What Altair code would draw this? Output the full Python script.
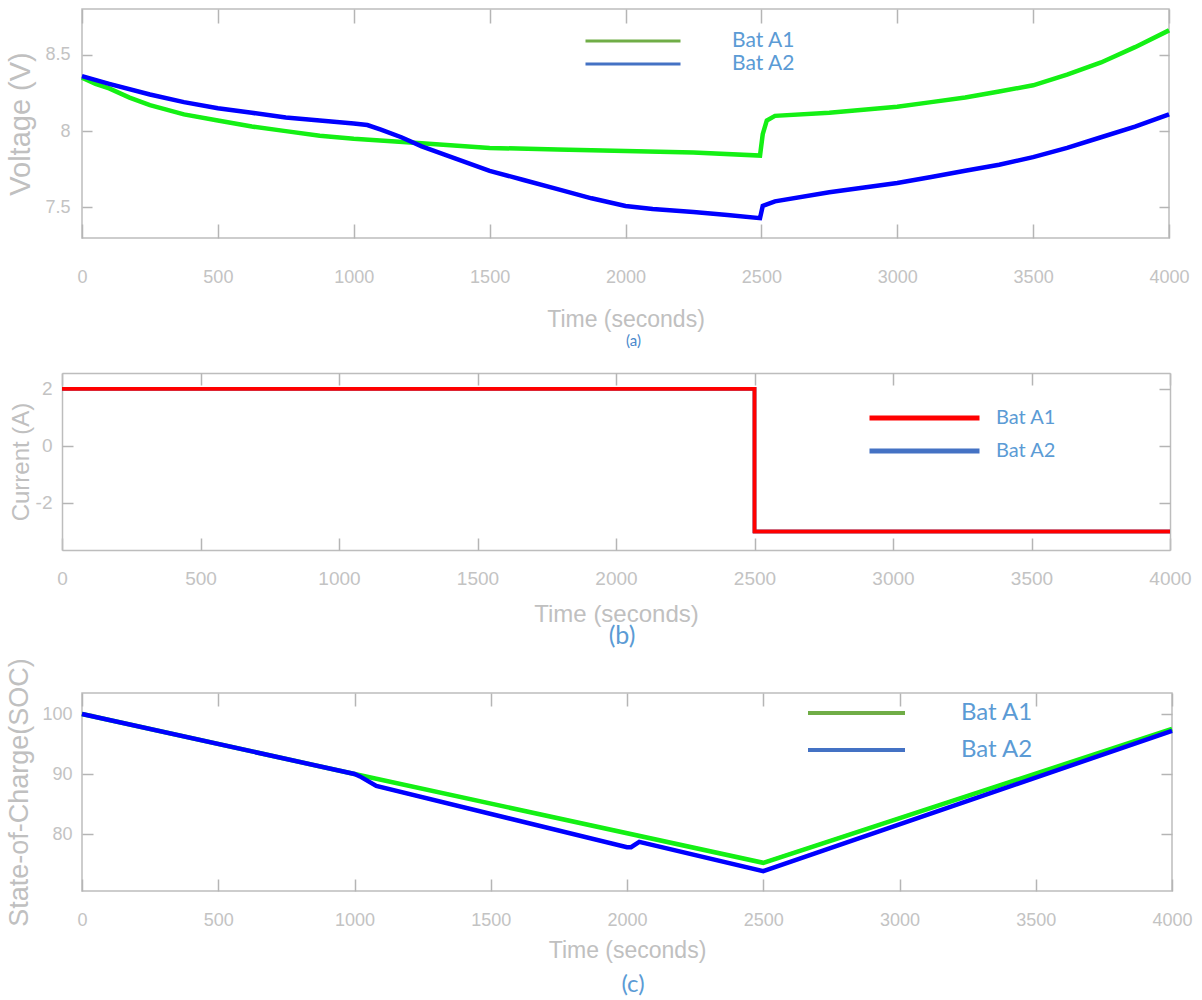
import altair as alt
import pandas as pd

# ---------------- data ----------------
series = ["Bat A1", "Bat A2"]
x_ticks = [0, 500, 1000, 1500, 2000, 2500, 3000, 3500, 4000]

# (a) voltage
t_volt_a1 = [0, 50, 100, 175, 250, 375, 500, 625, 750, 875, 1000, 1250, 1500, 1750, 2000, 2250, 2495,
             2505, 2520, 2550, 2750, 3000, 3125, 3250, 3375, 3500, 3625, 3750, 3875, 4000]
volt_a1 = [8.35, 8.31, 8.28, 8.22, 8.17, 8.11, 8.07, 8.03, 8.00, 7.97, 7.95, 7.92, 7.89, 7.88, 7.87, 7.86, 7.84,
           7.98, 8.07, 8.10, 8.12, 8.16, 8.19, 8.22, 8.26, 8.30, 8.37, 8.45, 8.55, 8.66]
t_volt_a2 = [0, 100, 250, 375, 500, 625, 750, 875, 1000, 1050, 1100, 1175, 1250, 1375, 1500, 1625, 1750, 1875,
             2000, 2100, 2250, 2375, 2495, 2505, 2550, 2750, 3000, 3125, 3250, 3375, 3500, 3625, 3750, 3875, 4000]
volt_a2 = [8.36, 8.31, 8.24, 8.19, 8.15, 8.12, 8.09, 8.07, 8.05, 8.04, 8.01, 7.96, 7.90, 7.82, 7.74, 7.68, 7.62, 7.56,
           7.51, 7.49, 7.47, 7.45, 7.43, 7.51, 7.54, 7.60, 7.66, 7.70, 7.74, 7.78, 7.83, 7.89, 7.96, 8.03, 8.11]
volt_ticks = [7.5, 8, 8.5]

# (b) current
t_curr = [0, 2500, 2500, 4000]
curr_a1 = [2, 2, -3, -3]
curr_a2 = [2, 2, -3, -3]
curr_ticks = [-2, 0, 2]

# (c) state of charge
t_soc_a1 = [0, 1000, 2500, 4000]
soc_a1 = [100, 90, 75.2, 97.5]
t_soc_a2 = [0, 1000, 1020, 1080, 2000, 2015, 2045, 2500, 4000]
soc_a2 = [100, 90, 89.6, 88.0, 77.8, 77.8, 78.7, 73.8, 97.2]
soc_ticks = [80, 90, 100]


def frame(t, v, name):
    return pd.DataFrame({"t": t, "v": v, "series": name, "i": list(range(len(t)))})


# ---------------- style ----------------
REG = "Liberation Sans"
LEG = "Lato"
LABEL_C = "#c3c3c3"
TITLE_C = "#c0c0c0"
TICK_C = "#b5b5b5"
FRAME_C = "#bdbdbd"
LEG_TEXT = "#5b9bd5"


def x_axis(tick, lsize, lpad, tsize, tpad):
    return alt.Axis(values=x_ticks, format="d", orient="bottom", offset=-tick, tickSize=tick,
                    domain=False, grid=False, tickColor=TICK_C, tickWidth=1.5,
                    labelFont=REG, labelFontSize=lsize, labelColor=LABEL_C, labelPadding=lpad,
                    labelFlush=False, labelOverlap=False,
                    title="Time (seconds)", titleFont=REG, titleFontSize=tsize,
                    titleFontWeight="normal", titleColor=TITLE_C, titlePadding=tpad)


def x_mirror(tick):
    return alt.Axis(values=x_ticks, orient="top", offset=-tick, tickSize=tick, domain=False,
                    grid=False, labels=False, tickColor=TICK_C, tickWidth=1.5, title=None)


def y_axis(vals, tick, lsize, lpad, title, tsize, tpad):
    return alt.Axis(values=vals, orient="left", offset=-tick, tickSize=tick, domain=False,
                    grid=False, tickColor=TICK_C, tickWidth=1.5,
                    labelExpr="toString(datum.value)", labelFont=REG, labelFontSize=lsize,
                    labelColor=LABEL_C, labelPadding=lpad, labelFlush=False, labelOverlap=False,
                    title=title, titleFont=REG, titleFontSize=tsize, titleFontWeight="normal",
                    titleColor=TITLE_C, titlePadding=tpad)


def y_mirror(vals, tick):
    return alt.Axis(values=vals, orient="right", offset=-tick, tickSize=tick, domain=False,
                    grid=False, labels=False, tickColor=TICK_C, tickWidth=1.5, title=None)


def legend(lx, ly, length, sw, clip, rowpad, loff, fsize):
    return alt.Legend(orient="none", legendX=lx, legendY=ly, title=None, symbolType="stroke",
                      symbolSize=length * length, symbolStrokeWidth=sw, clipHeight=clip,
                      rowPadding=rowpad, labelOffset=loff, labelFont=LEG, labelFontSize=fsize,
                      labelColor=LEG_TEXT, padding=0, labelLimit=400)


xs = alt.Scale(domain=[0, 4000], nice=False, zero=False)

# ---------------- panel (a) ----------------
ys_a = alt.Scale(domain=[7.3, 8.8], nice=False, zero=False)
df_a = pd.concat([frame(t_volt_a1, volt_a1, series[0]), frame(t_volt_a2, volt_a2, series[1])])
leg_a = alt.Chart(df_a).mark_line(strokeWidth=3).encode(
    x=alt.X("t:Q", scale=xs, axis=x_axis(14, 18, 30, 23, 22)),
    y=alt.Y("v:Q", scale=ys_a, axis=y_axis(volt_ticks, 10, 18, 12, "Voltage (V)", 29, 9)),
    color=alt.Color("series:N", scale=alt.Scale(domain=series, range=["#70ad47", "#4472c4"]),
                    legend=legend(502, 22, 95, 3, 20, 2, 50, 21)),
    order="i:Q")
green_a = alt.Chart(frame(t_volt_a1, volt_a1, series[0])).mark_line(strokeWidth=4.5, color="#14f014").encode(
    x=alt.X("t:Q", scale=xs, axis=x_mirror(14)),
    y=alt.Y("v:Q", scale=ys_a, axis=y_mirror(volt_ticks, 10)),
    order="i:Q")
blue_a = alt.Chart(frame(t_volt_a2, volt_a2, series[1])).mark_line(strokeWidth=4.5, color="#0000ff").encode(
    x=alt.X("t:Q", scale=xs, axis=None),
    y=alt.Y("v:Q", scale=ys_a, axis=None),
    order="i:Q")
panel_a = alt.layer(leg_a, green_a, blue_a).resolve_axis(x="independent", y="independent").properties(
    width=1087, height=229,
    title=alt.TitleParams("(a)", orient="bottom", anchor="middle", frame="group", font=LEG,
                          fontSize=15, fontWeight="normal", color="#4a88cc", offset=3, dx=8))

# ---------------- panel (b) ----------------
# plot frame sits 20 px further left than in (a) and (c): the x range starts at -20
xs_b = alt.Scale(domain=[0, 4000], range=[-20, 1088], nice=False, zero=False)
ys_b = alt.Scale(domain=[-3.65, 2.55], nice=False, zero=False)
cs_b = alt.Scale(domain=series, range=["#ff0000", "#4472c4"])
leg_b_spec = legend(785, 30, 110, 5, 30, 3, 14, 20)

x_b_main = alt.Axis(values=x_ticks, format="d", orient="bottom", offset=0, domain=True, domainColor=FRAME_C,
                    domainWidth=1.5, ticks=False, tickSize=0, grid=False, labelFont=REG, labelFontSize=19,
                    labelColor=LABEL_C, labelPadding=19, labelFlush=False, labelOverlap=False,
                    title="Time (seconds)", titleFont=REG, titleFontSize=24, titleFontWeight="normal",
                    titleColor=TITLE_C, titlePadding=14)
y_b_main = alt.Axis(values=curr_ticks, orient="left", offset=20, domain=True, domainColor=FRAME_C,
                    domainWidth=1.5, ticks=False, tickSize=0, grid=False,
                    labelExpr="toString(datum.value)", labelFont=REG, labelFontSize=19,
                    labelColor=LABEL_C, labelPadding=10, labelFlush=False, labelOverlap=False,
                    title="Current (A)", titleFont=REG, titleFontSize=24, titleFontWeight="normal",
                    titleColor=TITLE_C, titlePadding=2)
x_b_top = alt.Axis(values=x_ticks, orient="top", offset=0, domain=True, domainColor=FRAME_C, domainWidth=1.5,
                   ticks=False, tickSize=0, labels=False, grid=False, title=None)
y_b_right = alt.Axis(values=curr_ticks, orient="right", offset=0, domain=True, domainColor=FRAME_C,
                     domainWidth=1.5, ticks=False, tickSize=0, labels=False, grid=False, title=None)
x_b_tick_bottom = alt.Axis(values=x_ticks, orient="bottom", offset=-12, tickSize=12, domain=False, labels=False,
                           grid=False, tickColor=TICK_C, tickWidth=1.5, title=None)
y_b_tick_left = alt.Axis(values=curr_ticks, orient="left", offset=9, tickSize=11, domain=False, labels=False,
                         grid=False, tickColor=TICK_C, tickWidth=1.5, title=None)
x_b_tick_top = alt.Axis(values=x_ticks, orient="top", offset=-12, tickSize=12, domain=False, labels=False,
                        grid=False, tickColor=TICK_C, tickWidth=1.5, title=None)
y_b_tick_right = alt.Axis(values=curr_ticks, orient="right", offset=-11, tickSize=11, domain=False, labels=False,
                          grid=False, tickColor=TICK_C, tickWidth=1.5, title=None)

df_b_a1 = frame(t_curr, curr_a1, series[0])
df_b_a2 = frame(t_curr, curr_a2, series[1])
blue_b = alt.Chart(df_b_a2).mark_line(strokeWidth=3.5).encode(
    x=alt.X("t:Q", scale=xs_b, axis=x_b_main),
    y=alt.Y("v:Q", scale=ys_b, axis=y_b_main),
    color=alt.Color("series:N", scale=cs_b, legend=leg_b_spec),
    order="i:Q")
blue_b2 = alt.Chart(df_b_a2).mark_line(strokeWidth=3.5, color="#4472c4").encode(
    x=alt.X("t:Q", scale=xs_b, axis=x_b_tick_bottom),
    y=alt.Y("v:Q", scale=ys_b, axis=y_b_tick_left),
    order="i:Q")
red_b = alt.Chart(df_b_a1).mark_line(strokeWidth=3.5).encode(
    x=alt.X("t:Q", scale=xs_b, axis=x_b_top),
    y=alt.Y("v:Q", scale=ys_b, axis=y_b_right),
    color=alt.Color("series:N", scale=cs_b, legend=leg_b_spec),
    order="i:Q")
red_b2 = alt.Chart(df_b_a1).mark_line(strokeWidth=3.5, color="#ff0000").encode(
    x=alt.X("t:Q", scale=xs_b, axis=x_b_tick_top),
    y=alt.Y("v:Q", scale=ys_b, axis=y_b_tick_right),
    order="i:Q")
panel_b = alt.layer(blue_b, blue_b2, red_b, red_b2).resolve_axis(x="independent", y="independent").properties(
    width=1088, height=177, view=alt.ViewBackground(strokeOpacity=0),
    title=alt.TitleParams("(b)", orient="bottom", anchor="middle", frame="group", font=LEG,
                          fontSize=25, fontWeight="normal", color="#5b9bd5", offset=-2, dx=-4))

# ---------------- panel (c) ----------------
ys_c = alt.Scale(domain=[70.5, 103.5], nice=False, zero=False)
df_c = pd.concat([frame(t_soc_a1, soc_a1, series[0]), frame(t_soc_a2, soc_a2, series[1])])
leg_c = alt.Chart(df_c).mark_line(strokeWidth=3).encode(
    x=alt.X("t:Q", scale=xs, axis=x_axis(12, 18, 20, 23, 10)),
    y=alt.Y("v:Q", scale=ys_c, axis=y_axis(soc_ticks, 11, 18, 10, "State-of-Charge(SOC)", 27, 8)),
    color=alt.Color("series:N", scale=alt.Scale(domain=series, range=["#70ad47", "#4472c4"]),
                    legend=legend(724, 3, 97, 4, 34, 3, 54, 24)),
    order="i:Q")
green_c = alt.Chart(frame(t_soc_a1, soc_a1, series[0])).mark_line(strokeWidth=4.5, color="#14f014").encode(
    x=alt.X("t:Q", scale=xs, axis=x_mirror(13)),
    y=alt.Y("v:Q", scale=ys_c, axis=y_mirror(soc_ticks, 11)),
    order="i:Q")
blue_c = alt.Chart(frame(t_soc_a2, soc_a2, series[1])).mark_line(strokeWidth=4.5, color="#0000ff").encode(
    x=alt.X("t:Q", scale=xs, axis=None),
    y=alt.Y("v:Q", scale=ys_c, axis=None),
    order="i:Q")
panel_c = alt.layer(leg_c, green_c, blue_c).resolve_axis(x="independent", y="independent").properties(
    width=1090, height=198,
    title=alt.TitleParams("(c)", orient="bottom", anchor="middle", frame="group", font=LEG,
                          fontSize=24, fontWeight="normal", color="#5b9bd5", offset=11, dx=6))

inner = alt.concat(panel_b, panel_c, columns=1, spacing=7).resolve_scale(
    color="independent").resolve_legend(color="independent")
chart = alt.concat(panel_a, inner, columns=1, spacing=22).resolve_scale(
    color="independent").resolve_legend(color="independent")
chart = chart.properties(padding={"left": 5, "top": 7, "right": 5, "bottom": 2}, background="white")
chart = chart.configure_view(stroke=FRAME_C, strokeWidth=1.5)

chart.save("out.html", embed_options={"renderer": "svg", "actions": False})
